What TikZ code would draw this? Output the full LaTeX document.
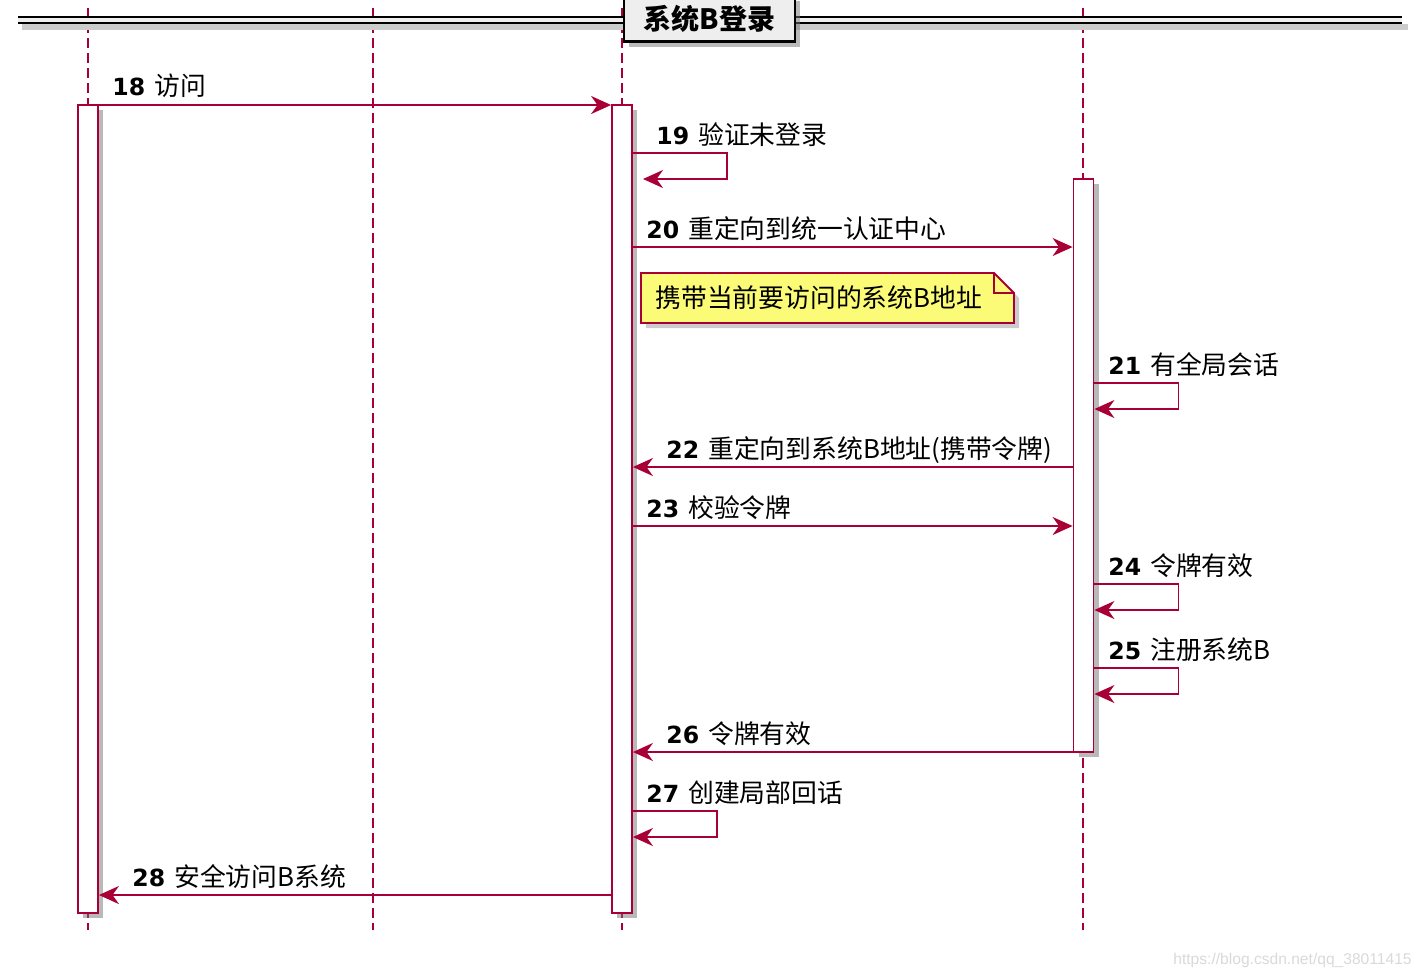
\documentclass[tikz,border=0pt]{standalone}
\usepackage{fontspec}
\setmainfont{Noto Sans CJK SC}
\newfontfamily\numfont{DejaVu Sans}
\newfontfamily\wmfont{Liberation Sans}
\usetikzlibrary{arrows.meta,shadows}
\definecolor{umlred}{HTML}{A80036}
\definecolor{notefill}{HTML}{FBFB77}
\definecolor{headfill}{HTML}{EEEEEE}

\newcommand{\msgtxt}[2]{{\numfont\bfseries\fontsize{11.8}{14}\selectfont #1}\hspace{4.5pt}#2}

\begin{document}
\begin{tikzpicture}[x=0.5pt, y=-0.5pt, font=\fontsize{12.9}{15}\selectfont,
  life/.style={umlred, line width=0.7pt, dash pattern=on 5pt off 2.5pt},
  bar/.style={draw=umlred, fill=white, line width=0.9pt, minimum width=10pt,
    inner sep=0pt, drop shadow={shadow xshift=2.5pt, shadow yshift=-2.5pt,
    fill=black!55, opacity=0.5}},
  msg/.style={umlred, line width=0.9pt,
    -{Stealth[length=10pt, width=9pt, inset=3.2pt]}},
  lbl/.style={anchor=base west, inner sep=0pt},
  headbox/.style={draw=black, line width=1.1pt, fill=headfill,
    minimum width=85.5pt, minimum height=23pt, inner sep=0pt,
    font=\fontsize{14}{16}\selectfont\bfseries,
    drop shadow={shadow xshift=2.5pt, shadow yshift=-2.5pt, fill=black!55, opacity=0.5}},
  notebox/.style={draw=umlred, fill=notefill, line width=0.9pt,
    drop shadow={shadow xshift=2.5pt, shadow yshift=-2.5pt, fill=black!50, opacity=0.4}},
]
\useasboundingbox (0,0) rectangle (1422,976);

% lifelines
\foreach \n/\x in {A/88,B/373,C/622,D/1083} {
  \coordinate (\n top) at (\x,8);
  \coordinate (\n bot) at (\x,930);
  \draw[life] (\n top) -- (\n bot);
}

% divider
\fill[black!20] (22,24) rectangle (1408,30);
\fill[headfill] (18,17) rectangle (1402,23);
\draw[line width=1.2pt] (18,17) -- (1402,17);
\draw[line width=1.2pt] (18,23) -- (1402,23);
\node[headbox] (title) at (709.5,18.5) {系统B登录};

% activations
\node[bar, minimum height=404pt] (barA) at (88,509) {};
\node[bar, minimum height=404pt] (barC) at (622,509) {};
\node[bar, minimum height=286.5pt] (barD) at (1083.5,465.5) {};

% messages
\draw[msg] (barA.east |- 0,105) -- (barC.west |- 0,105);
\node[lbl] (m18) at (112,95) {\msgtxt{18}{访问}};

\draw[msg] (barC.east |- 0,153) -- ++(94,0) -- ++(0,26) -- (643,179);
\node[lbl] (m19) at (656,144) {\msgtxt{19}{验证未登录}};

\draw[msg] (barC.east |- 0,247) -- (barD.west |- 0,247);
\node[lbl] (m20) at (646,238) {\msgtxt{20}{重定向到统一认证中心}};

% note
\path[notebox] (641,273) -- (994,273) -- (1014,293) -- (1014,323) -- (641,323) -- cycle;
\draw[umlred, line width=0.9pt] (994,273) -- (994,293) -- (1014,293);
\node[lbl] (note) at (655,307) {携带当前要访问的系统B地址};

\draw[msg] (barD.east |- 0,383) -- ++(84,0) -- ++(0,26) -- (barD.east |- 0,409);
\node[lbl] (m21) at (1108,374) {\msgtxt{21}{有全局会话}};

\draw[msg] (barD.west |- 0,467) -- (barC.east |- 0,467);
\node[lbl] (m22) at (666,458) {\msgtxt{22}{重定向到系统B地址(携带令牌)}};

\draw[msg] (barC.east |- 0,526) -- (barD.west |- 0,526);
\node[lbl] (m23) at (646,517) {\msgtxt{23}{校验令牌}};

\draw[msg] (barD.east |- 0,584) -- ++(84,0) -- ++(0,26) -- (barD.east |- 0,610);
\node[lbl] (m24) at (1108,575) {\msgtxt{24}{令牌有效}};

\draw[msg] (barD.east |- 0,668) -- ++(84,0) -- ++(0,26) -- (barD.east |- 0,694);
\node[lbl] (m25) at (1108,659) {\msgtxt{25}{注册系统B}};

\draw[msg] (barD.west |- 0,752) -- (barC.east |- 0,752);
\node[lbl] (m26) at (666,743) {\msgtxt{26}{令牌有效}};

\draw[msg] (barC.east |- 0,811) -- ++(84,0) -- ++(0,26) -- (barC.east |- 0,837);
\node[lbl] (m27) at (646,802) {\msgtxt{27}{创建局部回话}};

\draw[msg] (barC.west |- 0,895) -- (barA.east |- 0,895);
\node[lbl] (m28) at (132,886) {\msgtxt{28}{安全访问B系统}};

% watermark
\node[anchor=base east, inner sep=0pt, text=black!15,
  font=\wmfont\fontsize{7.8}{9}\selectfont] (wm) at (1412,964)
  {https://blog.csdn.net/qq\_38011415};
\end{tikzpicture}
\end{document}
